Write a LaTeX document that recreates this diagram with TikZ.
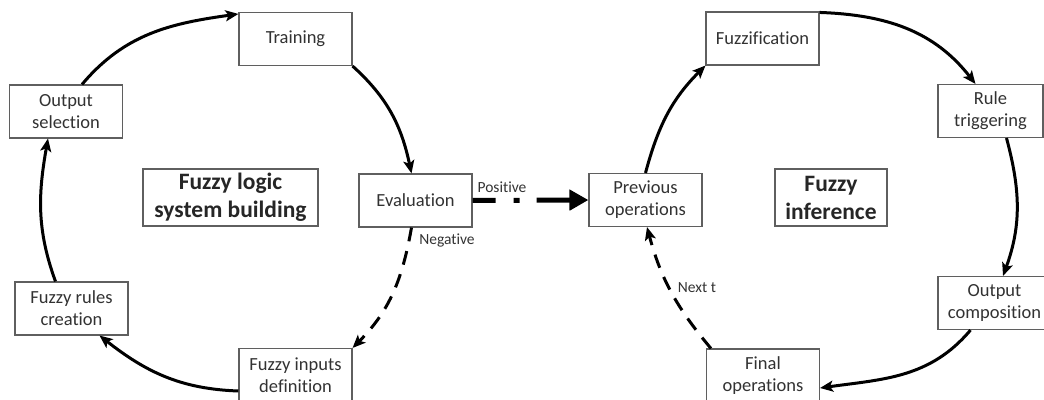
\documentclass[tikz,border=0pt]{standalone}
\usepackage{fontspec}
\setmainfont{Carlito}[Ligatures={NoCommon,NoContextual}]
\usetikzlibrary{arrows.meta}
\definecolor{txt}{RGB}{50,50,50}
\definecolor{bord}{RGB}{95,95,95}
\tikzset{
  stepbox/.style={draw=bord, line width=1.1pt, fill=white, minimum width=113pt, minimum height=53pt,
    inner sep=0pt, align=center, text=txt, font=\fontsize{18.5}{22}\selectfont},
  titlebox/.style={draw=bord, line width=1.1pt, fill=white, minimum height=57pt,
    inner sep=0pt, align=center, text=black!85, font=\bfseries\fontsize{23.5}{28}\selectfont},
  flow/.style={line width=3pt, -{Stealth[length=13pt,width=11pt,inset=3pt]}},
  dflow/.style={line width=3pt, dash pattern=on 14pt off 10pt, -{Stealth[length=13pt,width=11pt,inset=3pt]}},
  lbl/.style={text=black!80, font=\fontsize{15.5}{18}\selectfont, inner sep=0pt}
}
\begin{document}
\begin{tikzpicture}[x=1pt,y=1pt]
\useasboundingbox (0,0) rectangle (1044,399);
% left cycle
\node[stepbox] (train) at (295.5,360) {Training};
\node[stepbox] (outsel) at (66,287.5) {Output\\selection};
\node[stepbox] (rules) at (71.5,90.5) {Fuzzy rules\\creation};
\node[stepbox] (inputs) at (295.5,24) {Fuzzy inputs\\definition};
\node[stepbox] (eval) at (415.5,198.5) {Evaluation};
\node[titlebox, minimum width=175pt] (title1) at (230.5,201.5) {Fuzzy logic\\system building};
% right cycle
\node[stepbox] (prev) at (645.5,199) {Previous\\operations};
\node[stepbox] (fuzzif) at (762.5,360.5) {Fuzzification};
\node[stepbox, minimum width=105pt] (rule) at (990.5,288) {Rule\\triggering};
\node[stepbox] (outcomp) at (994.5,96) {Output\\composition};
\node[stepbox] (final) at (763,23.5) {Final\\operations};
\node[titlebox, minimum width=112pt] (title2) at (831,201.5) {Fuzzy\\inference};
% left connectors
\draw[flow] ([xshift=16pt]outsel.north) to[out=50,in=188] ([yshift=-2pt]train.north west);
\draw[flow] (train.south east) to[out=-42,in=102] ([xshift=-4pt]eval.north);
\draw[dflow] ([xshift=-4pt]eval.south) to[out=-100,in=45] (inputs.north east);
\draw[flow] ([yshift=-16pt]inputs.west) to[out=178,in=-38] ([xshift=28pt]rules.south);
\draw[flow] ([xshift=-16pt]rules.north) to[out=110,in=-100] ([xshift=-18pt]outsel.south);
% positive
\draw[line width=5pt, dash pattern=on 23pt off 18pt on 6pt off 17pt on 60pt,
  -{Triangle[length=19pt,width=20pt]}] (eval.east) -- (prev.west);
\node[lbl] (pos) at (502,212) {Positive};
\node[lbl] (neg) at (447,158) {Negative};
% right connectors
\draw[flow] (prev.north) to[out=75,in=225] (fuzzif.south west);
\draw[flow] ([yshift=-1pt]fuzzif.north east) to[out=-2,in=128] ([xshift=-15pt]rule.north);
\draw[flow] ([xshift=16pt]rule.south) to[out=-75,in=70] ([xshift=8.5pt]outcomp.north);
\draw[flow] ([xshift=-24pt]outcomp.south) to[out=230,in=8] ([yshift=-12.5pt]final.east);
\draw[dflow] ([xshift=5pt]final.north west) to[out=130,in=-75] ([xshift=1.5pt]prev.south);
\node[lbl] (next) at (697,111) {Next t};
\end{tikzpicture}
\end{document}
